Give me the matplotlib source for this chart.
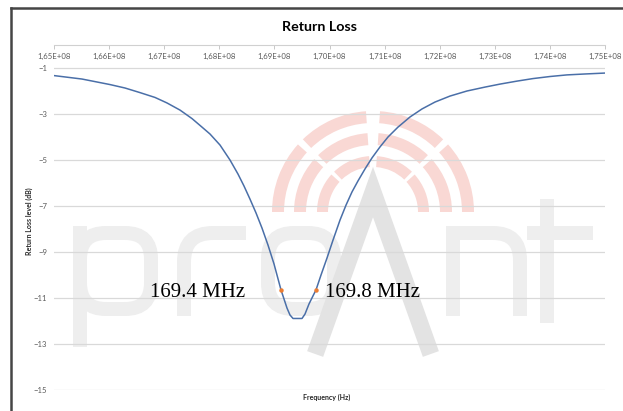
import matplotlib
matplotlib.use('Agg')

import numpy as np
import matplotlib.pyplot as plt
from matplotlib.ticker import FuncFormatter, MultipleLocator
from matplotlib.patches import Wedge, FancyBboxPatch, PathPatch
from matplotlib.path import Path
from matplotlib.transforms import Affine2D
from matplotlib.lines import Line2D

freq_mhz = [165.000, 165.508, 166.016, 166.289, 166.561, 166.833, 167.051, 167.287,
            167.505, 167.686, 167.831, 168.013, 168.194, 168.339, 168.448, 168.557,
            168.666, 168.775, 168.884, 168.993, 169.120, 169.229, 169.283, 169.338,
            169.501, 169.555, 169.628, 169.700, 169.755, 169.846, 169.955, 170.064,
            170.191, 170.300, 170.408, 170.517, 170.644, 170.771, 170.917, 171.062,
            171.243, 171.461, 171.679, 171.915, 172.187, 172.495, 172.822, 173.094,
            173.403, 173.693, 174.002, 174.310, 174.637, 175.000]
rl_db = [-1.33, -1.48, -1.72, -1.87, -2.07, -2.28, -2.52, -2.83,
         -3.20, -3.57, -3.87, -4.35, -5.00, -5.61, -6.13, -6.70,
         -7.30, -7.96, -8.70, -9.52, -10.65, -11.44, -11.74, -11.89,
         -11.89, -11.70, -11.26, -10.91, -10.65, -10.00, -9.26, -8.48,
         -7.61, -6.96, -6.39, -5.91, -5.39, -4.91, -4.43, -4.00,
         -3.57, -3.13, -2.78, -2.48, -2.22, -2.00, -1.83, -1.70,
         -1.57, -1.46, -1.37, -1.30, -1.26, -1.22]

marker_mhz = [169.12, 169.755]
marker_db = [-10.65, -10.65]
marker_text = ["169.4 MHz", "169.8 MHz"]

yticks = [-15, -13, -11, -9, -7, -5, -3, -1]

W, H = 623, 411
fig = plt.figure(figsize=(W / 100, H / 100), dpi=100)
fig.patch.set_facecolor('white')
ax = fig.add_axes([54 / W, 1 - 390 / H, (605 - 54) / W, (390 - 45) / H])

# pixel coords (y down) -> display, used for the watermark only
px = Affine2D().scale(1 / 100, -1 / 100).translate(0, H / 100) + fig.dpi_scale_trans

# --- proAnt watermark ---
pink = '#f9d8d4'
light = '#eeeeee'
agrey = '#e3e3e3'
cx, cy = 373, 212
for r_out, r_in in [(101, 89), (79, 67), (56, 45)]:
    for a1, a2 in [(180, 222), (226, 266), (274, 314), (318, 360)]:
        ax.add_patch(Wedge((cx, cy), r_out, a1, a2, width=r_out - r_in,
                           facecolor=pink, edgecolor='none', transform=px, zorder=0.1))

lw_px = 14 * 0.72
# p
ax.add_patch(FancyBboxPatch((80, 233), 71, 76, boxstyle="round,pad=0,rounding_size=26",
                            fill=False, edgecolor=light, lw=lw_px, transform=px, zorder=0.1))
ax.add_line(Line2D([80, 80], [233, 340], color=light, lw=lw_px, transform=px, zorder=0.1))
# r
r_path = Path([(184, 316), (184, 262), (184, 233), (213, 233), (246, 233)],
              [Path.MOVETO, Path.LINETO, Path.CURVE3, Path.CURVE3, Path.LINETO])
ax.add_patch(PathPatch(r_path, fill=False, edgecolor=light, lw=lw_px, transform=px, zorder=0.1))
# o
ax.add_patch(FancyBboxPatch((268, 233), 66, 76, boxstyle="round,pad=0,rounding_size=26",
                            fill=False, edgecolor=light, lw=lw_px, transform=px, zorder=0.1))
# n
n_path = Path([(453, 316), (453, 233), (493, 233), (520, 233), (520, 260), (520, 316)],
              [Path.MOVETO, Path.LINETO, Path.LINETO, Path.CURVE3, Path.CURVE3, Path.LINETO])
ax.add_patch(PathPatch(n_path, fill=False, edgecolor=light, lw=lw_px, transform=px, zorder=0.1))
# t
ax.add_line(Line2D([547, 547], [206, 316], color=light, lw=lw_px, transform=px, zorder=0.1))
ax.add_line(Line2D([534, 586], [233, 233], color=light, lw=lw_px, transform=px, zorder=0.1))
# A
ax.add_line(Line2D([318, 373, 428], [346, 192, 346], color=agrey, lw=17 * 0.72,
                   transform=px, zorder=0.15, solid_joinstyle='miter'))

# --- data ---
freq_hz = np.array(freq_mhz) * 1e6
ax.plot(freq_hz, rl_db, color='#4a6fa8', lw=1.1, zorder=3)
ax.plot(np.array(marker_mhz) * 1e6, marker_db, 'o', color='#ed7d31', ms=3.2,
        mec='none', zorder=4)
ax.annotate(marker_text[0], (marker_mhz[0] * 1e6, marker_db[0]), xytext=(-26, -5),
            textcoords='offset points', ha='right', va='baseline',
            fontsize=15, family='Liberation Serif', zorder=5)
ax.annotate(marker_text[1], (marker_mhz[1] * 1e6, marker_db[1]), xytext=(6.5, -5),
            textcoords='offset points', ha='left', va='baseline',
            fontsize=15, family='Liberation Serif', zorder=5)

# --- axes ---
ax.set_xlim(1.65e8, 1.75e8)
ax.set_ylim(-15, 0)
ax.set_yticks(yticks)
ax.xaxis.set_major_locator(MultipleLocator(1e6))
ax.xaxis.set_major_formatter(FuncFormatter(lambda v, p: f"{v:.2E}".replace('.', ',')))
ax.set_axisbelow(True)
ax.yaxis.grid(True, color='#d9d9d9', lw=0.9)

for side in ['left', 'right', 'bottom']:
    ax.spines[side].set_visible(False)
ax.spines['top'].set_color('#d0d0d0')
ax.spines['top'].set_linewidth(0.8)

ax.tick_params(axis='x', top=True, labeltop=True, bottom=False, labelbottom=False,
               direction='in', length=3, width=0.7, color='#c8c8c8',
               pad=-11, labelsize=5.6, labelcolor='#595959')
ax.tick_params(axis='y', left=False, length=0, pad=5, labelsize=5.6, labelcolor='#595959')
for lab in ax.get_xticklabels() + ax.get_yticklabels():
    lab.set_family('Lato')

fig.text(320 / W, 1 - 27 / H, 'Return Loss', ha='center', va='center',
         fontsize=10.3, fontweight='bold', family='Lato')
fig.text(29 / W, 1 - 221 / H, 'Return Loss level (dB)', rotation=90, ha='center',
         va='center', fontsize=5, fontweight='bold', family='Lato', color='#262626')
fig.text(327 / W, 1 - 397 / H, 'Frequency (Hz)', ha='center', va='center',
         fontsize=5, fontweight='bold', family='Lato', color='#262626')

# outer frame (left and top only are visible)
fig.add_artist(Line2D([11 / W, 11 / W], [0, 1 - 8 / H], color='#454545', lw=1.8))
fig.add_artist(Line2D([11 / W, 1], [1 - 8 / H, 1 - 8 / H], color='#454545', lw=1.8))

fig.savefig('out.png', dpi=100)
